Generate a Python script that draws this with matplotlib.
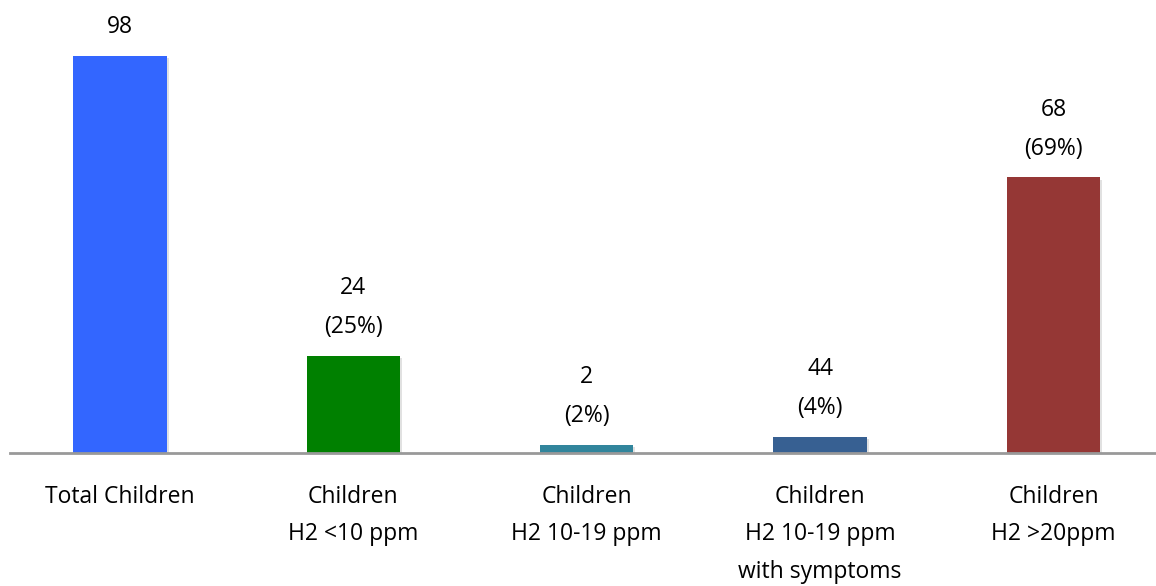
import matplotlib.pyplot as plt
import matplotlib.patheffects as pe

# categories and values
categories = ['Total Children', 'Children\nH2 <10 ppm', 'Children\nH2 10-19 ppm',
              'Children\nH2 10-19 ppm\nwith symptoms', 'Children\nH2 >20ppm']
counts = [98, 24, 2, 4, 68]
bar_labels = ['98', '24\n(25%)', '2\n(2%)', '44\n(4%)', '68\n(69%)']
colors = ['#3366FF', '#008000', '#31859C', '#376092', '#953735']

plt.rcParams['font.family'] = ['Open Sans', 'DejaVu Sans']

fig = plt.figure(figsize=(11.56, 5.86), dpi=100)
ax = fig.add_axes([10 / 1156, 133 / 586, 1 - 10 / 1156, 453 / 586])

x = range(len(counts))
bars = ax.bar(x, counts, width=0.4, color=colors, zorder=2)
for b in bars:
    b.set_path_effects([pe.SimplePatchShadow(offset=(1.5, -1.5), shadow_rgbFace='#888888', alpha=0.25),
                        pe.Normal()])

for xi, v, lab in zip(x, counts, bar_labels):
    ax.annotate(lab, (xi, v), xytext=(0, 12), textcoords='offset points',
                ha='center', va='bottom', fontsize=16.5, linespacing=1.85)

ax.set_xlim(-0.471, 4.439)
ax.set_ylim(0, 111.8)
ax.set_xticks(list(x))
ax.set_xticklabels(categories, fontsize=16.5, linespacing=1.75, va='top')
ax.tick_params(axis='x', length=0, pad=23)
ax.set_yticks([])

for s in ['top', 'right', 'left']:
    ax.spines[s].set_visible(False)
ax.spines['bottom'].set_color('#999999')
ax.spines['bottom'].set_linewidth(2)

fig.savefig('out.png', dpi=100)
